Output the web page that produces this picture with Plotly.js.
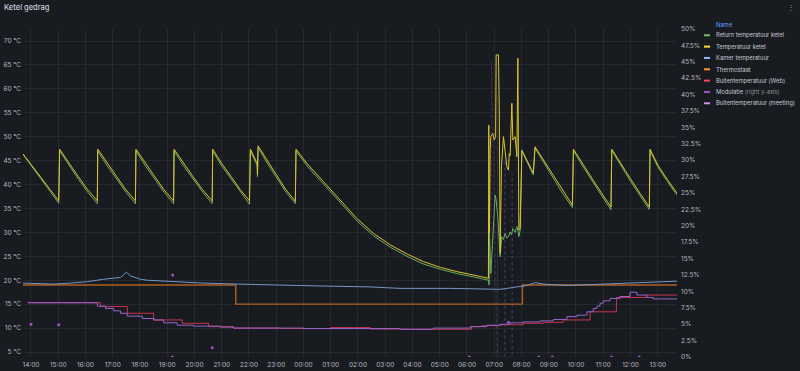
<!DOCTYPE html>
<html>
<head>
<meta charset="utf-8">
<script src="https://cdn.plot.ly/plotly-3.0.1.min.js"></script>
<style>
html,body{margin:0;padding:0;background:#181b1f;}
#chart{width:800px;height:371px;}
</style>
</head>
<body>
<div id="chart"></div>
<script>
// ---------- DATA ----------
const seriesNames = ["Return temperatuur ketel","Temperatuur ketel","Kamer temperatuur","Thermostaat","Buitentemperatuur (Web)","Modulatie","Buitentemperatuur (meeting)"];

const ketelTijd = [
"2024-03-04 13:42:24","2024-03-04 13:44","2024-03-04 14:01","2024-03-04 14:21","2024-03-04 14:41","2024-03-04 15:01",
"2024-03-04 15:03","2024-03-04 15:24","2024-03-04 15:44:30","2024-03-04 16:05","2024-03-04 16:26",
"2024-03-04 16:27","2024-03-04 16:48","2024-03-04 17:09","2024-03-04 17:29","2024-03-04 17:50",
"2024-03-04 17:51","2024-03-04 18:12","2024-03-04 18:33","2024-03-04 18:53","2024-03-04 19:14",
"2024-03-04 19:15","2024-03-04 19:36","2024-03-04 19:57","2024-03-04 20:18","2024-03-04 20:39",
"2024-03-04 20:40","2024-03-04 21:00","2024-03-04 21:21","2024-03-04 21:41","2024-03-04 22:01",
"2024-03-04 22:03","2024-03-04 22:18","2024-03-04 22:18:40","2024-03-04 22:20","2024-03-04 22:40","2024-03-04 23:01","2024-03-04 23:21:30","2024-03-04 23:42",
"2024-03-04 23:43:30","2024-03-05 00:07:40","2024-03-05 00:44","2024-03-05 01:21","2024-03-05 01:57:40","2024-03-05 02:34","2024-03-05 03:11","2024-03-05 03:47:40","2024-03-05 04:24","2024-03-05 05:01","2024-03-05 05:37:40","2024-03-05 06:14","2024-03-05 06:47:12",
"2024-03-05 06:48:00","2024-03-05 06:49:30","2024-03-05 06:51:00","2024-03-05 06:52:30","2024-03-05 06:57:00","2024-03-05 07:00:00","2024-03-05 07:03:00","2024-03-05 07:04:12","2024-03-05 07:09:18","2024-03-05 07:11:00","2024-03-05 07:13:00","2024-03-05 07:16:00","2024-03-05 07:20:18","2024-03-05 07:24:00","2024-03-05 07:27:48","2024-03-05 07:31:18","2024-03-05 07:33:00","2024-03-05 07:35:00","2024-03-05 07:38:48","2024-03-05 07:41:00","2024-03-05 07:46:00","2024-03-05 07:49:48","2024-03-05 07:52:00","2024-03-05 07:54:12","2024-03-05 07:57:00",
"2024-03-05 08:00:48","2024-03-05 08:13:30","2024-03-05 08:26","2024-03-05 08:29:48","2024-03-05 08:50:30","2024-03-05 09:11","2024-03-05 09:31:36","2024-03-05 09:52",
"2024-03-05 09:54:18","2024-03-05 10:15","2024-03-05 10:35:42","2024-03-05 10:56:30","2024-03-05 11:17",
"2024-03-05 11:18:48","2024-03-05 11:39:30","2024-03-05 12:00","2024-03-05 12:20:48","2024-03-05 12:41:30",
"2024-03-05 12:43","2024-03-05 13:00:36","2024-03-05 13:21:30","2024-03-05 13:42:24"
];
const ketelTemp = [
46.4,46.2,44.0,41.6,39.1,36.6,
47.4,44.4,41.6,38.9,36.6,
47.4,44.4,41.6,38.9,36.6,
47.4,44.4,41.6,38.9,36.6,
47.4,44.4,41.6,38.9,36.6,
47.4,44.4,41.6,38.9,36.6,
47.4,44.4,42.0,48.1,45.0,41.9,38.9,36.5,
47.4,44.4,40.6,36.8,32.9,29.8,27.4,25.5,23.9,22.7,21.8,21.1,20.4,
52.4,30.0,47.2,50.0,50.7,49.3,50.0,67.1,67.1,56.3,25.6,44.0,50.0,47.2,43.7,43.0,46.5,46.0,57.0,49.3,50.0,45.8,66.4,30.5,30.8,
47.2,44.7,42.4,47.9,44.8,41.8,38.6,35.7,
47.4,44.2,41.2,38.2,35.3,
47.4,44.2,41.2,38.2,35.3,
47.4,44.0,41.0,38.2
];

const retourTijd = [
"2024-03-04 13:42:24","2024-03-04 13:44","2024-03-04 14:01","2024-03-04 14:21","2024-03-04 14:41","2024-03-04 15:01",
"2024-03-04 15:03","2024-03-04 15:24","2024-03-04 15:44:30","2024-03-04 16:05","2024-03-04 16:26",
"2024-03-04 16:27","2024-03-04 16:48","2024-03-04 17:09","2024-03-04 17:29","2024-03-04 17:50",
"2024-03-04 17:51","2024-03-04 18:12","2024-03-04 18:33","2024-03-04 18:53","2024-03-04 19:14",
"2024-03-04 19:15","2024-03-04 19:36","2024-03-04 19:57","2024-03-04 20:18","2024-03-04 20:39",
"2024-03-04 20:40","2024-03-04 21:00","2024-03-04 21:21","2024-03-04 21:41","2024-03-04 22:01",
"2024-03-04 22:03","2024-03-04 22:18","2024-03-04 22:18:40","2024-03-04 22:20","2024-03-04 22:40","2024-03-04 23:01","2024-03-04 23:21:30","2024-03-04 23:42",
"2024-03-04 23:43:30","2024-03-05 00:07:40","2024-03-05 00:44","2024-03-05 01:21","2024-03-05 01:57:40","2024-03-05 02:34","2024-03-05 03:11","2024-03-05 03:47:40","2024-03-05 04:24","2024-03-05 05:01","2024-03-05 05:37:40","2024-03-05 06:14","2024-03-05 06:47:12",
"2024-03-05 06:48:48","2024-03-05 06:49:20","2024-03-05 06:52:30","2024-03-05 06:57:00","2024-03-05 07:02:00","2024-03-05 07:04:12","2024-03-05 07:08:00","2024-03-05 07:13:00","2024-03-05 07:16:42","2024-03-05 07:20:18","2024-03-05 07:24:00","2024-03-05 07:27:48","2024-03-05 07:31:18","2024-03-05 07:35:00","2024-03-05 07:38:00","2024-03-05 07:41:00","2024-03-05 07:46:00","2024-03-05 07:49:48","2024-03-05 07:52:00","2024-03-05 07:54:12","2024-03-05 07:57:00",
"2024-03-05 08:00:48","2024-03-05 08:13:30","2024-03-05 08:26","2024-03-05 08:29:48","2024-03-05 08:50:30","2024-03-05 09:11","2024-03-05 09:31:36","2024-03-05 09:52",
"2024-03-05 09:54:18","2024-03-05 10:15","2024-03-05 10:35:42","2024-03-05 10:56:30","2024-03-05 11:17",
"2024-03-05 11:18:48","2024-03-05 11:39:30","2024-03-05 12:00","2024-03-05 12:20:48","2024-03-05 12:41:30",
"2024-03-05 12:43","2024-03-05 13:00:36","2024-03-05 13:21:30","2024-03-05 13:42:24"
];
const retourTemp = [
46.3,46.1,43.8,41.3,38.7,36.1,
47.0,43.9,41.1,38.4,36.0,
47.0,43.9,41.1,38.4,36.0,
47.0,43.9,41.1,38.4,36.0,
47.0,43.9,41.1,38.4,36.0,
47.0,43.9,41.1,38.4,35.9,
47.0,44.0,41.6,47.7,44.5,41.4,38.4,36.0,
47.0,43.9,40.1,36.3,32.4,29.3,26.9,25.0,23.4,22.3,21.4,20.7,20.0,
19.0,30.1,21.4,29.1,37.8,36.8,33.0,24.9,29.1,28.5,29.8,28.8,29.1,30.1,29.5,30.8,30.0,31.2,30.5,29.1,30.5,
47.0,44.3,42.0,47.6,44.3,41.2,38.0,35.2,
47.1,43.8,40.7,37.7,34.7,
47.1,43.8,40.7,37.7,34.8,
47.1,43.6,40.6,37.8
];

const kamerTijd = [
"2024-03-04 13:42:24","2024-03-04 14:50","2024-03-04 15:27","2024-03-04 16:04","2024-03-04 16:40","2024-03-04 17:17","2024-03-04 17:24","2024-03-04 17:30","2024-03-04 17:39","2024-03-04 18:01","2024-03-04 18:16","2024-03-04 19:07","2024-03-04 20:19","2024-03-04 21:34","2024-03-04 22:47",
"2024-03-05 00:37","2024-03-05 02:27","2024-03-05 03:33","2024-03-05 05:23","2024-03-05 07:13","2024-03-05 07:50","2024-03-05 08:12","2024-03-05 08:30","2024-03-05 08:48","2024-03-05 09:40","2024-03-05 10:53","2024-03-05 12:06","2024-03-05 13:20","2024-03-05 13:42:24"
];
const kamerTemp = [19.4,19.2,19.4,19.7,20.2,20.6,21.1,21.7,20.9,20.2,20.0,19.7,19.4,19.2,19.0,18.8,18.6,18.3,18.3,18.1,18.6,18.9,19.5,19.2,18.9,19.2,19.4,19.7,19.8];

const thermostaatTijd = ["2024-03-04 13:42:24","2024-03-04 21:31","2024-03-05 08:02","2024-03-05 13:42:24"];
const thermostaatTemp = [19,15,19,19];

const webTijd = [
"2024-03-04 13:53","2024-03-04 16:33","2024-03-04 17:32","2024-03-04 18:30","2024-03-04 19:33","2024-03-04 20:31","2024-03-04 21:26","2024-03-04 23:09",
"2024-03-05 00:59","2024-03-05 02:27","2024-03-05 03:33","2024-03-05 06:10","2024-03-05 06:32","2024-03-05 07:13","2024-03-05 08:04","2024-03-05 08:48","2024-03-05 09:32","2024-03-05 10:31","2024-03-05 11:29","2024-03-05 12:35","2024-03-05 13:42:24"
];
const webTemp = [15.3,14.5,13.1,11.7,11.0,10.3,10.0,9.9,10.1,9.8,9.75,10.3,10.5,10.7,11.0,11.2,11.7,13.4,16.4,16.9,16.9];

const meetingTijd = [
"2024-03-04 13:53","2024-03-04 16:26","2024-03-04 16:44","2024-03-04 17:02","2024-03-04 17:17","2024-03-04 17:32","2024-03-04 18:05","2024-03-04 18:30","2024-03-04 18:52","2024-03-04 19:22","2024-03-04 19:58","2024-03-04 20:57","2024-03-04 21:26",
"2024-03-05 00:00","2024-03-05 03:33","2024-03-05 04:46","2024-03-05 06:07","2024-03-05 06:44","2024-03-05 07:13","2024-03-05 07:35","2024-03-05 08:04","2024-03-05 08:41","2024-03-05 09:10","2024-03-05 09:40","2024-03-05 10:02","2024-03-05 10:24","2024-03-05 10:38","2024-03-05 10:46","2024-03-05 10:53","2024-03-05 11:00","2024-03-05 11:15","2024-03-05 11:37","2024-03-05 11:59","2024-03-05 12:14","2024-03-05 12:36","2024-03-05 12:50","2024-03-05 13:42:24"
];
const meetingTemp = [15.3,14.6,14.1,13.6,13.1,12.5,12.0,11.7,11.1,10.6,10.4,10.2,10.0,9.9,9.75,10.0,10.3,10.6,10.8,11.1,11.3,11.5,11.8,12.4,12.7,13.4,14.1,14.6,15.2,15.7,16.2,16.6,17.5,16.9,16.4,16.1,16.1];

const modulatieTijd = ["2024-03-04 14:00","2024-03-04 15:01","2024-03-04 19:11","2024-03-04 19:12","2024-03-04 20:39","2024-03-05 06:05","2024-03-05 07:31","2024-03-05 08:38","2024-03-05 09:08","2024-03-05 11:18","2024-03-05 12:19"];
const modulatie = [5.0,4.9,0,12.5,1.4,0,5.3,0,0,0,0];

const modulatieBurstTijd = ["2024-03-05 06:53:30","2024-03-05 06:54:00","2024-03-05 07:06:30","2024-03-05 07:07:00","2024-03-05 07:08:00","2024-03-05 07:23:00","2024-03-05 07:23:30","2024-03-05 07:24:00","2024-03-05 07:39:00","2024-03-05 07:39:30","2024-03-05 07:40:00"];
const modulatieBurst = [12,45,0,40,0,0,30,0,0,28,0];

// ---------- STYLE ----------
const colors = {
  retour:"#6cae62", ketel:"#dcc42a", kamer:"#7596c8", thermo:"#b0601f",
  web:"#c9344f", modul:"#a352cc", meeting:"#9466cf"
};
const legendColors = ["#73bf69","#fade2a","#8ab8ff","#ff9830","#f2495c","#a352cc","#ca95e5"];

const traces = [
  {x:thermostaatTijd,y:thermostaatTemp,name:seriesNames[3],type:"scatter",mode:"lines",line:{color:colors.thermo,width:1.4,shape:"hv"}},
  {x:kamerTijd,y:kamerTemp,name:seriesNames[2],type:"scatter",mode:"lines",line:{color:colors.kamer,width:1}},
  {x:webTijd,y:webTemp,name:seriesNames[4],type:"scatter",mode:"lines",line:{color:colors.web,width:1,shape:"hv"}},
  {x:meetingTijd,y:meetingTemp,name:seriesNames[6],type:"scatter",mode:"lines",line:{color:colors.meeting,width:1,shape:"hv"}},
  {x:modulatieBurstTijd,y:modulatieBurst,name:seriesNames[5],type:"scatter",mode:"lines",yaxis:"y2",line:{color:"rgba(110,100,180,0.3)",width:1,dash:"dot"}},
  {x:modulatieTijd,y:modulatie,name:seriesNames[5],type:"scatter",mode:"markers",yaxis:"y2",marker:{color:colors.modul,size:3}},
  {x:retourTijd,y:retourTemp,name:seriesNames[0],type:"scatter",mode:"lines",line:{color:colors.retour,width:1}},
  {x:ketelTijd,y:ketelTemp,name:seriesNames[1],type:"scatter",mode:"lines",line:{color:colors.ketel,width:1}}
];

// plot area in px
const L = 23, R = 677, T = 29, B = 357, W = 800, H = 371;
const px = v => (v - L) / (R - L);
const py = v => (B - v) / (B - T);

const annotations = [];
const shapes = [];
annotations.push({xref:"paper",yref:"paper",x:px(714),y:py(24.7),xanchor:"left",yanchor:"middle",showarrow:false,text:"Name",font:{size:5.8,color:"#6e9fff",family:"Inter"}});
const legendLabels = ["Return temperatuur ketel","Temperatuur ketel","Kamer temperatuur","Thermostaat","Buitentemperatuur (Web)","Modulatie <span style='color:#8e8e96'>(right y-axis)</span>","Buitentemperatuur (meeting)"];
legendLabels.forEach((t,i)=>{
  const yy = 35.3 + i*11.33;
  annotations.push({xref:"paper",yref:"paper",x:px(714),y:py(yy),xanchor:"left",yanchor:"middle",showarrow:false,text:t,font:{size:5.8,color:"#c8c8d4",family:"Inter"}});
  shapes.push({type:"line",xref:"paper",yref:"paper",x0:px(704),x1:px(710),y0:py(yy),y1:py(yy),line:{color:legendColors[i],width:2}});
});
annotations.push({xref:"paper",yref:"paper",x:px(791),y:py(7),xanchor:"center",yanchor:"middle",showarrow:false,text:"⋮",font:{size:8,color:"#9a9aa6"}});

const layout = {
  width:W,height:H,
  paper_bgcolor:"#181b1f",plot_bgcolor:"#181b1f",
  margin:{l:L,r:W-R,t:T,b:H-B,pad:0},
  showlegend:false,
  font:{family:"Inter, 'Open Sans', sans-serif",color:"#b8b8c4",size:6.5},
  title:{text:"Ketel gedrag",x:4/W,xref:"container",xanchor:"left",y:1-7.3/H,yref:"container",yanchor:"middle",font:{size:7.5,color:"#ccccdc",family:"Inter",weight:500}},
  xaxis:{type:"date",range:["2024-03-04 13:42:24","2024-03-05 13:42:24"],tick0:"2024-03-04 14:00",dtick:3600000,tickformat:"%H:%M",
    showgrid:true,gridcolor:"rgba(204,204,220,0.08)",gridwidth:1,zeroline:false,showline:false,ticks:"",ticklabelstandoff:2,tickfont:{size:6.5,color:"#b8b8c4"}},
  yaxis:{range:[3.955,72.51],tick0:5,dtick:5,ticksuffix:" °C",showgrid:true,gridcolor:"rgba(204,204,220,0.08)",gridwidth:1,zeroline:false,showline:false,ticks:"",ticklabelstandoff:1,tickfont:{size:6.5,color:"#b8b8c4"}},
  yaxis2:{overlaying:"y",side:"right",range:[0,50],tick0:0,dtick:2.5,ticksuffix:"%",showgrid:false,zeroline:false,showline:false,ticks:"",ticklabelstandoff:3,tickfont:{size:6.5,color:"#b8b8c4"}},
  annotations:annotations,shapes:shapes
};

Plotly.newPlot("chart",traces,layout,{displayModeBar:false,staticPlot:true});
</script>
</body>
</html>
